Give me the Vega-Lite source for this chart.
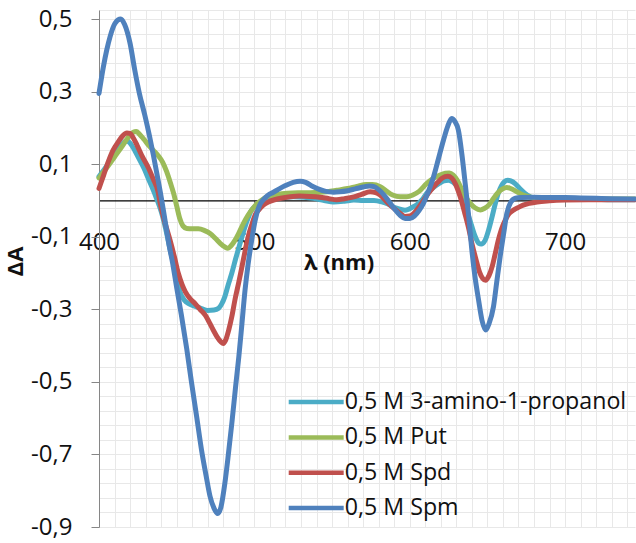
{
"$schema": "https://vega.github.io/schema/vega-lite/v6.json",
"width": 536, "height": 517,
"autosize": {"type": "none"},
"padding": {"left": 99, "top": 10, "right": 1, "bottom": 16},
"background": "white",
"config": {"view": {"stroke": null}, "font": "Open Sans"},
"data": {"values": [
{"s":"0,5 M 3-amino-1-propanol","x":400,"y":0.066},{"s":"0,5 M 3-amino-1-propanol","x":405,"y":0.095},{"s":"0,5 M 3-amino-1-propanol","x":408,"y":0.115},{"s":"0,5 M 3-amino-1-propanol","x":412,"y":0.14},{"s":"0,5 M 3-amino-1-propanol","x":416,"y":0.16},{"s":"0,5 M 3-amino-1-propanol","x":418,"y":0.165},{"s":"0,5 M 3-amino-1-propanol","x":420,"y":0.158},{"s":"0,5 M 3-amino-1-propanol","x":423,"y":0.138},{"s":"0,5 M 3-amino-1-propanol","x":426,"y":0.113},{"s":"0,5 M 3-amino-1-propanol","x":429,"y":0.088},{"s":"0,5 M 3-amino-1-propanol","x":432,"y":0.058},{"s":"0,5 M 3-amino-1-propanol","x":435,"y":0.028},{"s":"0,5 M 3-amino-1-propanol","x":437,"y":0.006},{"s":"0,5 M 3-amino-1-propanol","x":440,"y":-0.03},{"s":"0,5 M 3-amino-1-propanol","x":443,"y":-0.08},{"s":"0,5 M 3-amino-1-propanol","x":446,"y":-0.14},{"s":"0,5 M 3-amino-1-propanol","x":449,"y":-0.19},{"s":"0,5 M 3-amino-1-propanol","x":452,"y":-0.25},{"s":"0,5 M 3-amino-1-propanol","x":455,"y":-0.275},{"s":"0,5 M 3-amino-1-propanol","x":458,"y":-0.285},{"s":"0,5 M 3-amino-1-propanol","x":462,"y":-0.292},{"s":"0,5 M 3-amino-1-propanol","x":466,"y":-0.298},{"s":"0,5 M 3-amino-1-propanol","x":470,"y":-0.303},{"s":"0,5 M 3-amino-1-propanol","x":474,"y":-0.302},{"s":"0,5 M 3-amino-1-propanol","x":477,"y":-0.297},{"s":"0,5 M 3-amino-1-propanol","x":479,"y":-0.285},{"s":"0,5 M 3-amino-1-propanol","x":481,"y":-0.265},{"s":"0,5 M 3-amino-1-propanol","x":483,"y":-0.235},{"s":"0,5 M 3-amino-1-propanol","x":485.5,"y":-0.2},{"s":"0,5 M 3-amino-1-propanol","x":488,"y":-0.16},{"s":"0,5 M 3-amino-1-propanol","x":490,"y":-0.13},{"s":"0,5 M 3-amino-1-propanol","x":492,"y":-0.1},{"s":"0,5 M 3-amino-1-propanol","x":494,"y":-0.072},{"s":"0,5 M 3-amino-1-propanol","x":496,"y":-0.048},{"s":"0,5 M 3-amino-1-propanol","x":498,"y":-0.028},{"s":"0,5 M 3-amino-1-propanol","x":500,"y":-0.018},{"s":"0,5 M 3-amino-1-propanol","x":504,"y":-0.01},{"s":"0,5 M 3-amino-1-propanol","x":508,"y":0.0},{"s":"0,5 M 3-amino-1-propanol","x":512,"y":0.006},{"s":"0,5 M 3-amino-1-propanol","x":518,"y":0.008},{"s":"0,5 M 3-amino-1-propanol","x":525,"y":0.01},{"s":"0,5 M 3-amino-1-propanol","x":532,"y":0.009},{"s":"0,5 M 3-amino-1-propanol","x":538,"y":0.006},{"s":"0,5 M 3-amino-1-propanol","x":545,"y":0.0},{"s":"0,5 M 3-amino-1-propanol","x":551,"y":-0.004},{"s":"0,5 M 3-amino-1-propanol","x":558,"y":-0.002},{"s":"0,5 M 3-amino-1-propanol","x":564,"y":0.001},{"s":"0,5 M 3-amino-1-propanol","x":570,"y":0.0},{"s":"0,5 M 3-amino-1-propanol","x":577,"y":0.0},{"s":"0,5 M 3-amino-1-propanol","x":582,"y":-0.004},{"s":"0,5 M 3-amino-1-propanol","x":586,"y":-0.01},{"s":"0,5 M 3-amino-1-propanol","x":589,"y":-0.017},{"s":"0,5 M 3-amino-1-propanol","x":592,"y":-0.022},{"s":"0,5 M 3-amino-1-propanol","x":597,"y":-0.027},{"s":"0,5 M 3-amino-1-propanol","x":602,"y":-0.018},{"s":"0,5 M 3-amino-1-propanol","x":605,"y":-0.01},{"s":"0,5 M 3-amino-1-propanol","x":608,"y":0.002},{"s":"0,5 M 3-amino-1-propanol","x":611,"y":0.02},{"s":"0,5 M 3-amino-1-propanol","x":615,"y":0.035},{"s":"0,5 M 3-amino-1-propanol","x":619,"y":0.047},{"s":"0,5 M 3-amino-1-propanol","x":622,"y":0.054},{"s":"0,5 M 3-amino-1-propanol","x":625,"y":0.056},{"s":"0,5 M 3-amino-1-propanol","x":628,"y":0.05},{"s":"0,5 M 3-amino-1-propanol","x":631,"y":0.036},{"s":"0,5 M 3-amino-1-propanol","x":634,"y":0.01},{"s":"0,5 M 3-amino-1-propanol","x":636,"y":-0.017},{"s":"0,5 M 3-amino-1-propanol","x":638,"y":-0.045},{"s":"0,5 M 3-amino-1-propanol","x":640,"y":-0.072},{"s":"0,5 M 3-amino-1-propanol","x":642,"y":-0.098},{"s":"0,5 M 3-amino-1-propanol","x":644.5,"y":-0.118},{"s":"0,5 M 3-amino-1-propanol","x":646,"y":-0.12},{"s":"0,5 M 3-amino-1-propanol","x":648.5,"y":-0.11},{"s":"0,5 M 3-amino-1-propanol","x":651,"y":-0.078},{"s":"0,5 M 3-amino-1-propanol","x":653,"y":-0.045},{"s":"0,5 M 3-amino-1-propanol","x":655,"y":-0.01},{"s":"0,5 M 3-amino-1-propanol","x":657,"y":0.02},{"s":"0,5 M 3-amino-1-propanol","x":659,"y":0.04},{"s":"0,5 M 3-amino-1-propanol","x":661,"y":0.052},{"s":"0,5 M 3-amino-1-propanol","x":663,"y":0.056},{"s":"0,5 M 3-amino-1-propanol","x":665,"y":0.054},{"s":"0,5 M 3-amino-1-propanol","x":668,"y":0.046},{"s":"0,5 M 3-amino-1-propanol","x":671,"y":0.032},{"s":"0,5 M 3-amino-1-propanol","x":674,"y":0.02},{"s":"0,5 M 3-amino-1-propanol","x":678,"y":0.009},{"s":"0,5 M 3-amino-1-propanol","x":683,"y":0.004},{"s":"0,5 M 3-amino-1-propanol","x":690,"y":0.003},{"s":"0,5 M 3-amino-1-propanol","x":700,"y":0.003},{"s":"0,5 M 3-amino-1-propanol","x":710,"y":0.004},{"s":"0,5 M 3-amino-1-propanol","x":720,"y":0.003},{"s":"0,5 M 3-amino-1-propanol","x":730,"y":0.002},{"s":"0,5 M 3-amino-1-propanol","x":745,"y":0.002},
{"s":"0,5 M Put","x":400,"y":0.062},{"s":"0,5 M Put","x":405,"y":0.09},{"s":"0,5 M Put","x":410,"y":0.12},{"s":"0,5 M Put","x":415,"y":0.15},{"s":"0,5 M Put","x":419,"y":0.175},{"s":"0,5 M Put","x":422,"y":0.188},{"s":"0,5 M Put","x":424,"y":0.19},{"s":"0,5 M Put","x":426,"y":0.183},{"s":"0,5 M Put","x":429,"y":0.168},{"s":"0,5 M Put","x":432,"y":0.152},{"s":"0,5 M Put","x":435,"y":0.138},{"s":"0,5 M Put","x":438,"y":0.124},{"s":"0,5 M Put","x":441,"y":0.105},{"s":"0,5 M Put","x":443.5,"y":0.08},{"s":"0,5 M Put","x":446,"y":0.048},{"s":"0,5 M Put","x":448,"y":0.02},{"s":"0,5 M Put","x":450,"y":-0.015},{"s":"0,5 M Put","x":452,"y":-0.05},{"s":"0,5 M Put","x":454,"y":-0.07},{"s":"0,5 M Put","x":456.5,"y":-0.077},{"s":"0,5 M Put","x":460,"y":-0.078},{"s":"0,5 M Put","x":464,"y":-0.078},{"s":"0,5 M Put","x":468,"y":-0.083},{"s":"0,5 M Put","x":471.5,"y":-0.091},{"s":"0,5 M Put","x":475,"y":-0.105},{"s":"0,5 M Put","x":478,"y":-0.118},{"s":"0,5 M Put","x":481,"y":-0.128},{"s":"0,5 M Put","x":483,"y":-0.132},{"s":"0,5 M Put","x":485,"y":-0.125},{"s":"0,5 M Put","x":487.5,"y":-0.11},{"s":"0,5 M Put","x":490,"y":-0.09},{"s":"0,5 M Put","x":493,"y":-0.063},{"s":"0,5 M Put","x":496,"y":-0.04},{"s":"0,5 M Put","x":499,"y":-0.022},{"s":"0,5 M Put","x":502,"y":-0.008},{"s":"0,5 M Put","x":505,"y":0.002},{"s":"0,5 M Put","x":508,"y":0.01},{"s":"0,5 M Put","x":514,"y":0.016},{"s":"0,5 M Put","x":521,"y":0.02},{"s":"0,5 M Put","x":528,"y":0.021},{"s":"0,5 M Put","x":534,"y":0.021},{"s":"0,5 M Put","x":540,"y":0.022},{"s":"0,5 M Put","x":547,"y":0.024},{"s":"0,5 M Put","x":553,"y":0.028},{"s":"0,5 M Put","x":560,"y":0.033},{"s":"0,5 M Put","x":566,"y":0.039},{"s":"0,5 M Put","x":572,"y":0.044},{"s":"0,5 M Put","x":576,"y":0.044},{"s":"0,5 M Put","x":581,"y":0.038},{"s":"0,5 M Put","x":585,"y":0.026},{"s":"0,5 M Put","x":589,"y":0.015},{"s":"0,5 M Put","x":594,"y":0.01},{"s":"0,5 M Put","x":598,"y":0.01},{"s":"0,5 M Put","x":602,"y":0.015},{"s":"0,5 M Put","x":606,"y":0.025},{"s":"0,5 M Put","x":611,"y":0.047},{"s":"0,5 M Put","x":615,"y":0.06},{"s":"0,5 M Put","x":619.5,"y":0.07},{"s":"0,5 M Put","x":623,"y":0.075},{"s":"0,5 M Put","x":625.5,"y":0.076},{"s":"0,5 M Put","x":628,"y":0.07},{"s":"0,5 M Put","x":630.5,"y":0.056},{"s":"0,5 M Put","x":633,"y":0.035},{"s":"0,5 M Put","x":636,"y":0.01},{"s":"0,5 M Put","x":639,"y":-0.008},{"s":"0,5 M Put","x":642,"y":-0.02},{"s":"0,5 M Put","x":645.5,"y":-0.026},{"s":"0,5 M Put","x":648,"y":-0.022},{"s":"0,5 M Put","x":651,"y":-0.012},{"s":"0,5 M Put","x":654,"y":0.006},{"s":"0,5 M Put","x":656.5,"y":0.02},{"s":"0,5 M Put","x":659.5,"y":0.031},{"s":"0,5 M Put","x":662.5,"y":0.036},{"s":"0,5 M Put","x":665,"y":0.033},{"s":"0,5 M Put","x":669,"y":0.024},{"s":"0,5 M Put","x":673,"y":0.015},{"s":"0,5 M Put","x":678,"y":0.009},{"s":"0,5 M Put","x":685,"y":0.006},{"s":"0,5 M Put","x":700,"y":0.005},{"s":"0,5 M Put","x":715,"y":0.005},{"s":"0,5 M Put","x":730,"y":0.004},{"s":"0,5 M Put","x":745,"y":0.004},
{"s":"0,5 M Spd","x":400,"y":0.033},{"s":"0,5 M Spd","x":403,"y":0.07},{"s":"0,5 M Spd","x":406,"y":0.107},{"s":"0,5 M Spd","x":409,"y":0.138},{"s":"0,5 M Spd","x":412.5,"y":0.162},{"s":"0,5 M Spd","x":415,"y":0.177},{"s":"0,5 M Spd","x":418,"y":0.186},{"s":"0,5 M Spd","x":420,"y":0.185},{"s":"0,5 M Spd","x":422,"y":0.173},{"s":"0,5 M Spd","x":424.5,"y":0.152},{"s":"0,5 M Spd","x":428,"y":0.12},{"s":"0,5 M Spd","x":432,"y":0.088},{"s":"0,5 M Spd","x":435,"y":0.058},{"s":"0,5 M Spd","x":438,"y":0.024},{"s":"0,5 M Spd","x":439.5,"y":-0.01},{"s":"0,5 M Spd","x":442.5,"y":-0.062},{"s":"0,5 M Spd","x":445.7,"y":-0.109},{"s":"0,5 M Spd","x":448.5,"y":-0.155},{"s":"0,5 M Spd","x":451,"y":-0.2},{"s":"0,5 M Spd","x":453.5,"y":-0.232},{"s":"0,5 M Spd","x":455.5,"y":-0.251},{"s":"0,5 M Spd","x":458.5,"y":-0.27},{"s":"0,5 M Spd","x":462,"y":-0.285},{"s":"0,5 M Spd","x":465,"y":-0.3},{"s":"0,5 M Spd","x":468.5,"y":-0.317},{"s":"0,5 M Spd","x":471,"y":-0.336},{"s":"0,5 M Spd","x":473.5,"y":-0.357},{"s":"0,5 M Spd","x":476,"y":-0.376},{"s":"0,5 M Spd","x":478.5,"y":-0.39},{"s":"0,5 M Spd","x":480,"y":-0.394},{"s":"0,5 M Spd","x":481.5,"y":-0.385},{"s":"0,5 M Spd","x":483.5,"y":-0.357},{"s":"0,5 M Spd","x":485.5,"y":-0.32},{"s":"0,5 M Spd","x":487.5,"y":-0.274},{"s":"0,5 M Spd","x":490,"y":-0.225},{"s":"0,5 M Spd","x":492,"y":-0.183},{"s":"0,5 M Spd","x":494,"y":-0.14},{"s":"0,5 M Spd","x":496,"y":-0.1},{"s":"0,5 M Spd","x":498.5,"y":-0.065},{"s":"0,5 M Spd","x":500.5,"y":-0.04},{"s":"0,5 M Spd","x":503,"y":-0.025},{"s":"0,5 M Spd","x":506,"y":-0.012},{"s":"0,5 M Spd","x":509,"y":-0.004},{"s":"0,5 M Spd","x":513,"y":0.002},{"s":"0,5 M Spd","x":517,"y":0.006},{"s":"0,5 M Spd","x":523,"y":0.01},{"s":"0,5 M Spd","x":529,"y":0.012},{"s":"0,5 M Spd","x":536,"y":0.011},{"s":"0,5 M Spd","x":542,"y":0.009},{"s":"0,5 M Spd","x":548,"y":0.005},{"s":"0,5 M Spd","x":553,"y":0.002},{"s":"0,5 M Spd","x":558,"y":0.005},{"s":"0,5 M Spd","x":564,"y":0.01},{"s":"0,5 M Spd","x":569,"y":0.017},{"s":"0,5 M Spd","x":574.5,"y":0.024},{"s":"0,5 M Spd","x":578,"y":0.022},{"s":"0,5 M Spd","x":581,"y":0.015},{"s":"0,5 M Spd","x":584,"y":0.002},{"s":"0,5 M Spd","x":587.5,"y":-0.013},{"s":"0,5 M Spd","x":591,"y":-0.026},{"s":"0,5 M Spd","x":594,"y":-0.036},{"s":"0,5 M Spd","x":597,"y":-0.044},{"s":"0,5 M Spd","x":600,"y":-0.043},{"s":"0,5 M Spd","x":603,"y":-0.034},{"s":"0,5 M Spd","x":606,"y":-0.018},{"s":"0,5 M Spd","x":609,"y":0.001},{"s":"0,5 M Spd","x":612,"y":0.02},{"s":"0,5 M Spd","x":615.5,"y":0.038},{"s":"0,5 M Spd","x":618,"y":0.05},{"s":"0,5 M Spd","x":621,"y":0.062},{"s":"0,5 M Spd","x":624.5,"y":0.067},{"s":"0,5 M Spd","x":627,"y":0.062},{"s":"0,5 M Spd","x":630,"y":0.04},{"s":"0,5 M Spd","x":632.5,"y":0.01},{"s":"0,5 M Spd","x":635.5,"y":-0.036},{"s":"0,5 M Spd","x":638,"y":-0.078},{"s":"0,5 M Spd","x":640,"y":-0.118},{"s":"0,5 M Spd","x":642.5,"y":-0.16},{"s":"0,5 M Spd","x":645,"y":-0.198},{"s":"0,5 M Spd","x":647,"y":-0.215},{"s":"0,5 M Spd","x":648.8,"y":-0.22},{"s":"0,5 M Spd","x":651,"y":-0.207},{"s":"0,5 M Spd","x":653,"y":-0.183},{"s":"0,5 M Spd","x":655,"y":-0.147},{"s":"0,5 M Spd","x":657,"y":-0.11},{"s":"0,5 M Spd","x":659,"y":-0.08},{"s":"0,5 M Spd","x":661.5,"y":-0.054},{"s":"0,5 M Spd","x":664,"y":-0.036},{"s":"0,5 M Spd","x":667,"y":-0.026},{"s":"0,5 M Spd","x":670,"y":-0.019},{"s":"0,5 M Spd","x":673,"y":-0.013},{"s":"0,5 M Spd","x":677,"y":-0.008},{"s":"0,5 M Spd","x":682,"y":-0.004},{"s":"0,5 M Spd","x":690,"y":-0.001},{"s":"0,5 M Spd","x":700,"y":0.001},{"s":"0,5 M Spd","x":715,"y":0.002},{"s":"0,5 M Spd","x":730,"y":0.002},{"s":"0,5 M Spd","x":745,"y":0.002},
{"s":"0,5 M Spm","x":400,"y":0.295},{"s":"0,5 M Spm","x":402.8,"y":0.368},{"s":"0,5 M Spm","x":405,"y":0.415},{"s":"0,5 M Spm","x":407.1,"y":0.451},{"s":"0,5 M Spm","x":410.3,"y":0.488},{"s":"0,5 M Spm","x":414,"y":0.5},{"s":"0,5 M Spm","x":416.5,"y":0.485},{"s":"0,5 M Spm","x":420,"y":0.433},{"s":"0,5 M Spm","x":423,"y":0.36},{"s":"0,5 M Spm","x":426,"y":0.295},{"s":"0,5 M Spm","x":429.5,"y":0.235},{"s":"0,5 M Spm","x":432.5,"y":0.178},{"s":"0,5 M Spm","x":435,"y":0.125},{"s":"0,5 M Spm","x":437.5,"y":0.068},{"s":"0,5 M Spm","x":440,"y":0.01},{"s":"0,5 M Spm","x":442.5,"y":-0.055},{"s":"0,5 M Spm","x":445,"y":-0.12},{"s":"0,5 M Spm","x":447.5,"y":-0.175},{"s":"0,5 M Spm","x":450,"y":-0.24},{"s":"0,5 M Spm","x":453,"y":-0.315},{"s":"0,5 M Spm","x":456.5,"y":-0.41},{"s":"0,5 M Spm","x":459.5,"y":-0.5},{"s":"0,5 M Spm","x":463,"y":-0.6},{"s":"0,5 M Spm","x":466,"y":-0.688},{"s":"0,5 M Spm","x":469,"y":-0.76},{"s":"0,5 M Spm","x":471.5,"y":-0.816},{"s":"0,5 M Spm","x":474,"y":-0.848},{"s":"0,5 M Spm","x":476.4,"y":-0.863},{"s":"0,5 M Spm","x":478.5,"y":-0.845},{"s":"0,5 M Spm","x":481,"y":-0.78},{"s":"0,5 M Spm","x":483,"y":-0.71},{"s":"0,5 M Spm","x":485.5,"y":-0.614},{"s":"0,5 M Spm","x":488,"y":-0.51},{"s":"0,5 M Spm","x":490,"y":-0.431},{"s":"0,5 M Spm","x":492,"y":-0.34},{"s":"0,5 M Spm","x":494,"y":-0.247},{"s":"0,5 M Spm","x":496,"y":-0.175},{"s":"0,5 M Spm","x":498.3,"y":-0.109},{"s":"0,5 M Spm","x":500.5,"y":-0.055},{"s":"0,5 M Spm","x":503,"y":-0.017},{"s":"0,5 M Spm","x":506,"y":0.003},{"s":"0,5 M Spm","x":509,"y":0.015},{"s":"0,5 M Spm","x":512,"y":0.022},{"s":"0,5 M Spm","x":516,"y":0.032},{"s":"0,5 M Spm","x":520,"y":0.041},{"s":"0,5 M Spm","x":525,"y":0.05},{"s":"0,5 M Spm","x":529.5,"y":0.053},{"s":"0,5 M Spm","x":533,"y":0.05},{"s":"0,5 M Spm","x":537,"y":0.04},{"s":"0,5 M Spm","x":541,"y":0.032},{"s":"0,5 M Spm","x":546,"y":0.025},{"s":"0,5 M Spm","x":551,"y":0.023},{"s":"0,5 M Spm","x":555,"y":0.024},{"s":"0,5 M Spm","x":560,"y":0.027},{"s":"0,5 M Spm","x":565,"y":0.032},{"s":"0,5 M Spm","x":570,"y":0.037},{"s":"0,5 M Spm","x":574,"y":0.04},{"s":"0,5 M Spm","x":577,"y":0.038},{"s":"0,5 M Spm","x":580,"y":0.03},{"s":"0,5 M Spm","x":583.5,"y":0.015},{"s":"0,5 M Spm","x":587,"y":-0.005},{"s":"0,5 M Spm","x":590.5,"y":-0.025},{"s":"0,5 M Spm","x":594,"y":-0.042},{"s":"0,5 M Spm","x":597,"y":-0.05},{"s":"0,5 M Spm","x":600,"y":-0.05},{"s":"0,5 M Spm","x":603,"y":-0.043},{"s":"0,5 M Spm","x":606,"y":-0.028},{"s":"0,5 M Spm","x":608.8,"y":-0.008},{"s":"0,5 M Spm","x":612,"y":0.025},{"s":"0,5 M Spm","x":615.3,"y":0.065},{"s":"0,5 M Spm","x":618.5,"y":0.115},{"s":"0,5 M Spm","x":621.7,"y":0.166},{"s":"0,5 M Spm","x":624.5,"y":0.205},{"s":"0,5 M Spm","x":627,"y":0.226},{"s":"0,5 M Spm","x":629,"y":0.218},{"s":"0,5 M Spm","x":631.3,"y":0.194},{"s":"0,5 M Spm","x":633.5,"y":0.13},{"s":"0,5 M Spm","x":635.7,"y":0.047},{"s":"0,5 M Spm","x":638,"y":-0.045},{"s":"0,5 M Spm","x":640,"y":-0.137},{"s":"0,5 M Spm","x":642,"y":-0.21},{"s":"0,5 M Spm","x":644.3,"y":-0.274},{"s":"0,5 M Spm","x":646.5,"y":-0.33},{"s":"0,5 M Spm","x":649,"y":-0.357},{"s":"0,5 M Spm","x":651,"y":-0.34},{"s":"0,5 M Spm","x":653.9,"y":-0.293},{"s":"0,5 M Spm","x":656,"y":-0.225},{"s":"0,5 M Spm","x":658.2,"y":-0.155},{"s":"0,5 M Spm","x":660.5,"y":-0.09},{"s":"0,5 M Spm","x":662.5,"y":-0.036},{"s":"0,5 M Spm","x":665,"y":-0.005},{"s":"0,5 M Spm","x":668,"y":0.006},{"s":"0,5 M Spm","x":672,"y":0.008},{"s":"0,5 M Spm","x":680,"y":0.009},{"s":"0,5 M Spm","x":690,"y":0.008},{"s":"0,5 M Spm","x":700,"y":0.008},{"s":"0,5 M Spm","x":710,"y":0.007},{"s":"0,5 M Spm","x":720,"y":0.006},{"s":"0,5 M Spm","x":730,"y":0.005},{"s":"0,5 M Spm","x":745,"y":0.004}
]},
"mark": {"type": "line", "strokeWidth": 5, "interpolate": "monotone", "strokeCap": "round", "strokeJoin": "round"},
"encoding": {
"x": {"field": "x", "type": "quantitative",
 "scale": {"domain": [400, 745], "nice": false, "zero": false},
 "axis": {"title": "λ (nm)", "offset": -326.53,
  "values": [400,410,420,430,440,450,460,470,480,490,500,510,520,530,540,550,560,570,580,590,600,610,620,630,640,650,660,670,680,690,700,710,720,730,740],
  "grid": true, "gridColor": "#e8e8e8", "gridWidth": 1,
  "domainColor": "#000000", "domainWidth": 1.2,
  "tickColor": "#868686", "tickSize": 6, "tickWidth": 1,
  "tickOpacity": {"condition": {"test": "datum.value % 100 === 0 && datum.value > 400", "value": 1}, "value": 0},
  "labelExpr": "datum.value % 100 === 0 ? datum.value + '' : ''",
  "labelFont": "Open Sans", "labelFontSize": 24, "labelColor": "#111111", "labelBaseline": "middle", "labelPadding": 36.5,
  "labelFlush": false, "labelOverlap": false, "labelBound": false,
  "titleFont": "Open Sans", "titleFontSize": 22, "titleFontWeight": "bold", "titleColor": "#111111",
  "titleX": 239.5, "titleY": 62.5, "titleAlign": "center", "titleBaseline": "middle"}},
"y": {"field": "y", "type": "quantitative",
 "scale": {"domain": [-0.9, 0.525], "nice": false, "zero": false},
 "axis": {"title": "ΔA",
  "values": [-0.9,-0.86,-0.82,-0.78,-0.74,-0.7,-0.66,-0.62,-0.58,-0.54,-0.5,-0.46,-0.42,-0.38,-0.34,-0.3,-0.26,-0.22,-0.18,-0.14,-0.1,-0.06,-0.02,0.02,0.06,0.1,0.14,0.18,0.22,0.26,0.3,0.34,0.38,0.42,0.46,0.5,0.525],
  "grid": true, "gridColor": "#e8e8e8", "gridWidth": 1,
  "domainColor": "#868686", "domainWidth": 1,
  "tickColor": "#868686", "tickSize": 8, "tickWidth": 1,
  "tickOpacity": {"condition": {"test": "round((datum.value + 0.9) * 25) % 5 === 0", "value": 1}, "value": 0},
  "labelExpr": "round((datum.value + 0.9) * 25) % 5 === 0 ? replace(datum.value + '', '.', ',') : ''",
  "labelFont": "Open Sans", "labelFontSize": 24, "labelColor": "#111111", "labelPadding": 19,
  "labelFlush": false, "labelOverlap": false, "labelBound": false,
  "titleFont": "Open Sans", "titleFontSize": 22, "titleFontWeight": "bold", "titleColor": "#111111",
  "titleX": -84, "titleY": 251, "titleAngle": -90, "titleAlign": "center", "titleBaseline": "middle"}},
"color": {"field": "s", "type": "nominal",
 "scale": {"domain": ["0,5 M 3-amino-1-propanol", "0,5 M Put", "0,5 M Spd", "0,5 M Spm"], "range": ["#4BACC6", "#9BBB59", "#C0504D", "#4F81BD"]},
 "legend": {"orient": "none", "legendX": 205.6, "legendY": 380.5, "title": null, "padding": 0,
  "symbolType": "M-4,0H4", "symbolSize": 189, "symbolStrokeWidth": 4.5,
  "labelFont": "Open Sans", "labelFontSize": 23.2, "labelColor": "#111111", "labelOffset": 17, "labelLimit": 400,
  "rowPadding": 11.3}}
}
}
